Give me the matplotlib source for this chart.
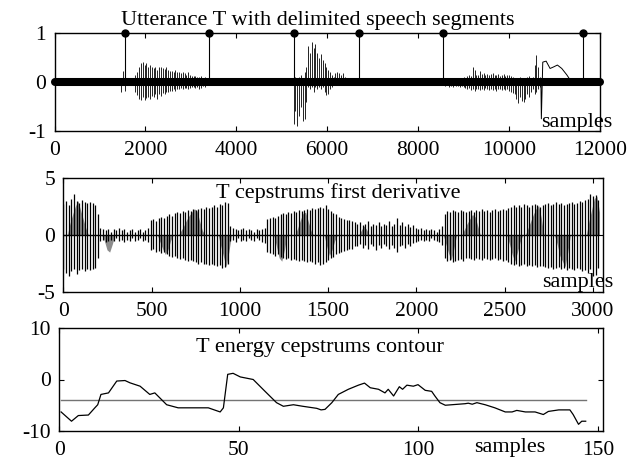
import numpy as np
import matplotlib
matplotlib.use("Agg")
import matplotlib.pyplot as plt

plt.rcParams['font.family'] = ['Liberation Serif', 'DejaVu Serif']
plt.rcParams['axes.unicode_minus'] = False

# ---------------- data ----------------
# Panel 1: utterance waveform (stick envelopes) and segment delimiters
n_samples = 12000
boundaries = [1545, 3407, 5260, 6703, 8557, 11633]
boundary_vals = [1, 1, 1, 1, 1, 1]

blip_x = [1460, 1500, 1540]
blip_hi = [0.05, 0.22, 0.10]
blip_lo = [-0.20, -0.05, -0.18]

seg1_start, seg1_step = 1780, 40
seg1_hi = [0.15, 0.2, 0.3, 0.4, 0.42, 0.35, 0.4, 0.3, 0.35,
           0.3, 0.28, 0.3, 0.25, 0.3, 0.3, 0.28, 0.27, 0.3, 0.25, 0.22,
           0.22, 0.2, 0.25, 0.2, 0.2, 0.18, 0.2, 0.18, 0.15, 0.2, 0.15, 0.12,
           0.12, 0.12, 0.1, 0.1, 0.12, 0.08, 0.1, 0.05]
seg1_lo = [-0.2, -0.27, -0.35, -0.37, -0.3, -0.37, -0.33, -0.3, -0.35,
           -0.28, -0.3, -0.25, -0.35, -0.25, -0.28, -0.22, -0.25, -0.2, -0.2, -0.18,
           -0.18, -0.15, -0.18, -0.15, -0.15, -0.12, -0.15, -0.12, -0.12, -0.15, -0.12, -0.1,
           -0.1, -0.12, -0.1, -0.15, -0.12, -0.08, -0.1, -0.05]

seg2_start, seg2_step = 5260, 40
seg2_hi = [0.05, 0.1, 0.05, 0.1, 0.15, 0.05, 0.2, 0.3, 0.75, 0.6, 0.82, 0.7, 0.78,
           0.6, 0.5, 0.58, 0.45, 0.4, 0.3, 0.25, 0.2, 0.15, 0.1, 0.18, 0.2, 0.18,
           0.15, 0.18, 0.1, 0.05]
seg2_lo = [-0.85, -0.6, -0.9, -0.7, -0.5, -0.8, -0.75, -0.4, -0.1, -0.15, -0.1, -0.2,
           -0.1, -0.15, -0.1, -0.15, -0.1, -0.2, -0.27, -0.25, -0.15, -0.1, -0.05,
           -0.05, -0.03, -0.03, -0.02, 0.0, 0.0, 0.0]

seg3_start, seg3_step = 8560, 40
seg3_hi = [0.05, 0.07, 0.04, 0.08, 0.06, 0.05, 0.08, 0.06, 0.07, 0.05, 0.08, 0.1, 0.08,
           0.12, 0.15, 0.13, 0.3, 0.25, 0.15, 0.14, 0.22, 0.16, 0.18, 0.15, 0.17, 0.14,
           0.16, 0.18, 0.15, 0.14, 0.16, 0.13, 0.15, 0.17, 0.12, 0.14, 0.15, 0.12, 0.1,
           0.08, 0.06, 0.05, 0.1, 0.06, 0.08, 0.05, 0.1, 0.12, 0.08, 0.1,
           0.35, 0.55, 0.3, 0.1]
seg3_lo = [-0.06, -0.08, -0.05, -0.09, -0.07, -0.1, -0.06, -0.08, -0.07, -0.09, -0.08, -0.1, -0.12,
           -0.14, -0.12, -0.16, -0.15, -0.18, -0.13, -0.15, -0.17, -0.14, -0.16, -0.12, -0.15,
           -0.17, -0.13, -0.16, -0.14, -0.18, -0.15, -0.13, -0.16, -0.14, -0.17, -0.15, -0.18,
           -0.2, -0.22,
           -0.25, -0.35, -0.42, -0.3, -0.38, -0.4, -0.35, -0.25, -0.3, -0.2, -0.15,
           -0.25, -0.2, -0.15, -0.1]

tail_x = [10700, 10710, 10741, 10815, 10902, 10975, 11063, 11159, 11269, 11341]
tail_y = [0.0, -0.75, 0.41, 0.43, 0.28, 0.31, 0.35, 0.28, 0.15, 0.05]

# Panel 2: cepstrum first derivative (stick envelopes every 15 samples)
stick_step = 15
deriv_hi = [2.7, 3.0, 2.6, 3.2, 3.6, 3.0, 2.8, 3.1, 2.9, 2.8, 2.9, 2.8, 2.6, 1.8,
            0.6, 0.5, 0.4, 0.5, 0.3, 0.5, 0.4, 0.6, 0.4, 0.5, 0.3, 0.4, 0.5, 0.3, 0.4, 0.5, 0.3, 0.4, 0.6,
            1.3, 1.4, 1.2, 1.5, 1.6, 1.5, 1.7, 1.8, 1.7, 1.9, 2.0, 1.9, 2.1, 2.0, 2.2, 2.1, 2.3, 2.2,
            2.3, 2.4, 2.3, 2.5, 2.4, 2.5, 2.6, 2.5, 2.7, 2.6, 2.9, 2.8,
            0.8, 0.6, 0.5, 0.4, 0.5, 0.6, 0.4, 0.5, 0.4, 0.3, 0.5, 0.4, 0.5, 0.6,
            1.4, 1.5, 1.6, 1.5, 1.7, 1.8, 1.9, 1.8, 2.0, 1.9, 2.1, 2.0, 2.2, 2.1, 2.2, 2.3, 2.2, 2.4, 2.3, 2.4,
            2.5, 2.4, 2.6, 2.3,
            2.1, 1.9, 1.8, 1.6, 1.5, 1.4, 1.3, 1.3, 1.2, 1.1,
            1.0, 1.1, 0.9, 1.0, 1.2, 0.8, 1.0, 0.9, 1.1, 0.8, 1.0, 0.9, 1.2, 0.8, 1.0, 1.5, 0.9,
            1.1, 0.8, 1.0, 0.7, 0.9, 0.6, 0.5, 0.6, 0.4, 0.5, 0.4, 0.5, 0.4, 0.3, 0.5, 0.8,
            1.8, 2.1, 2.0, 2.2, 2.1, 2.0, 2.2, 2.1, 2.0,
            2.1, 2.2, 2.0, 2.2, 2.1, 2.3, 2.1, 2.2, 2.0, 2.2, 2.3, 2.1, 2.2, 2.3, 2.2,
            2.4, 2.5, 2.6, 2.5, 2.6, 2.5, 2.7, 2.6, 2.5, 2.6, 2.7, 2.6, 2.5,
            2.6, 2.7, 2.8, 2.6, 2.7, 2.9, 2.7, 2.8, 2.6, 2.7, 2.8, 2.9, 2.7, 2.8, 3.0, 2.9, 3.1,
            3.2, 3.6, 3.4, 3.5, 3.1]
deriv_lo = [-3.0, -3.3, -3.6, -3.2, -3.0, -3.4, -3.1, -3.0, -3.2, -3.0, -3.1, -3.0, -2.9, -2.0,
            -0.5, -0.4, -0.6, -0.5, -0.4, -0.5, -0.3, -0.5, -0.4, -0.6, -0.4, -0.5, -0.3, -0.5, -0.4, -0.3, -0.5, -0.4, -0.6,
            -1.3, -1.2, -1.5, -1.4, -1.6, -1.5, -1.7, -1.8, -1.9, -1.8, -2.0, -2.1, -2.0, -2.2, -2.3, -2.2,
            -2.3, -2.4, -2.5, -2.4, -2.5, -2.5, -2.6, -2.5, -2.6, -2.7, -2.6, -2.9, -2.8, -2.5,
            -0.5, -0.4, -0.6, -0.3, -0.5, -0.4, -0.5, -0.3, -0.4, -0.5, -0.3, -0.4, -0.6, -0.7,
            -1.5, -1.6, -1.7, -1.8, -1.7, -1.9, -2.0, -2.1, -2.0, -2.2, -2.1, -2.2, -2.3, -2.2, -2.3, -2.4, -2.3, -2.4, -2.5, -2.4,
            -2.6, -2.5, -2.4, -2.2,
            -2.0, -1.9, -1.7, -1.6, -1.5, -1.4, -1.3, -1.2, -1.2, -1.0,
            -1.0, -0.8, -1.1, -0.9, -1.2, -0.8, -1.0, -1.3, -0.9, -1.1, -0.8, -1.0, -1.2, -0.9, -1.1, -1.5, -1.0,
            -0.9, -1.1, -0.8, -1.0, -0.7, -0.6, -0.5, -0.4, -0.5, -0.4, -0.5, -0.3, -0.4, -0.5, -0.6, -0.9,
            -2.0, -2.3, -2.2, -2.4, -2.3, -2.2, -2.1, -2.3, -2.0,
            -2.0, -2.1, -2.2, -2.0, -2.1, -2.2, -2.0, -2.1, -2.2, -2.1, -2.0, -2.2, -2.1, -2.3, -2.2,
            -2.4, -2.5, -2.6, -2.5, -2.7, -2.6, -2.5, -2.7, -2.6, -2.7, -2.6, -2.8, -2.7,
            -2.7, -2.8, -2.9, -2.8, -3.0, -2.9, -2.8, -3.0, -2.9, -3.1, -2.9, -3.0, -3.1, -2.9, -3.0, -3.2, -3.1,
            -3.3, -3.0, -3.6, -3.5, -2.9]
# slowly varying coefficient "triangles": stick index -> value
tri_k = [2, 3, 4, 5, 6, 7, 8,
         15, 16, 17, 18,
         36, 37, 38, 39, 40,
         44, 45, 46, 47, 48, 49, 50, 51, 52,
         59, 60, 61, 62,
         80, 81, 82, 83,
         88, 89, 90, 91, 92, 93,
         99, 100, 101, 102,
         112, 113, 114,
         144, 145, 146, 147,
         151, 152, 153, 154, 155, 156,
         168, 169, 170, 171, 172,
         175, 176, 177, 178, 179, 180,
         186, 187, 188, 189, 190,
         198, 199, 200, 201, 202]
tri_v = [1.0, 1.8, 2.5, 3.0, 2.2, 1.4, 0.6,
         -0.5, -1.3, -1.5, -0.8,
         -0.6, -1.2, -1.7, -1.3, -0.5,
         0.4, 0.8, 1.3, 1.7, 2.0, 2.3, 2.1, 1.2, 0.4,
         -1.0, -1.9, -2.8, -1.5,
         -1.0, -2.0, -2.3, -1.3,
         0.6, 1.3, 1.9, 2.0, 1.2, 0.4,
         -1.0, -1.8, -1.3, -0.5,
         0.4, 0.8, 0.5,
         -0.8, -1.6, -2.2, -1.2,
         0.5, 1.0, 1.4, 1.8, 1.6, 0.8,
         -0.8, -1.7, -2.3, -1.5, -0.6,
         0.6, 1.2, 1.8, 2.3, 2.6, 1.5,
         -0.8, -1.8, -2.3, -2.8, -1.5,
         1.2, 2.2, 3.2, 3.4, 2.0]

# Panel 3: energy cepstrum contour and threshold
contour_x = [0.5, 3.4, 5.3, 8.1, 9.9, 10.7, 11.6, 13.7, 16.0, 18.3, 19.7, 22.5, 25.2, 26.6,
             29.9, 33.1, 41.5, 44.8, 45.7, 46.9, 48.4, 50.4, 54.0, 57.3, 60.5, 62.4, 65.2,
             67.8, 71.7, 72.9, 74.0, 75.9, 77.7, 80.5, 83.3, 85.0, 86.6, 88.9, 90.7, 91.6,
             93.1, 94.7, 95.6, 96.8, 98.6, 99.9, 101.9, 103.7, 104.6, 106.0, 107.5, 109.3,
             113.0, 113.9, 115.0, 116.3, 118.6, 121.3, 124.2, 126.1, 127.4, 129.8, 132.5,
             134.8, 136.2, 139.1, 142.2, 143.1, 144.6, 145.5, 146.6]
contour_y = [-6.3, -8.1, -7.0, -6.9, -5.5, -4.9, -2.9, -2.6, -0.3, -0.2, -0.65, -1.3, -2.9, -2.6,
             -4.9, -5.5, -5.5, -6.3, -5.5, 1.0, 1.2, 0.5, 0.0, -2.3, -4.5, -5.2, -4.9,
             -5.2, -5.6, -5.9, -5.8, -4.5, -2.9, -1.9, -1.1, -0.7, -1.6, -1.9, -2.6, -1.9,
             -3.2, -1.4, -1.9, -1.1, -1.3, -1.0, -2.1, -2.3, -3.2, -4.5, -5.0, -4.9,
             -4.7, -4.6, -4.8, -4.5, -4.9, -5.5, -6.3, -6.3, -6.0, -6.3, -6.3,
             -6.8, -6.2, -5.9, -5.9, -6.8, -8.7, -8.1, -8.1]
threshold = -4.0

# ---------------- figure ----------------
W, H = 639, 462
fig = plt.figure(figsize=(W / 100, H / 100), dpi=100)

def rect(l, t, r, b):
    return [l / W, 1 - b / H, (r - l) / W, (b - t) / H]

ax1 = fig.add_axes(rect(54.5, 33.3, 600, 131))
ax2 = fig.add_axes(rect(63.4, 178, 602.7, 292))
ax3 = fig.add_axes(rect(59.3, 328, 603.3, 431))

TICK_FS = 15.5
TXT_FS = 16

for ax in (ax1, ax2, ax3):
    ax.tick_params(direction='in', top=True, right=True, length=3.5, width=0.8,
                   labelsize=TICK_FS)
    ax.tick_params(axis='x', pad=7.5)
    ax.tick_params(axis='y', pad=6)
    for s in ax.spines.values():
        s.set_linewidth(1.0)

# --- panel 1 ---
lw_w = 0.6
ax1.vlines(blip_x, blip_lo, blip_hi, color='k', lw=lw_w)
x1 = seg1_start + seg1_step * np.arange(len(seg1_hi))
ax1.vlines(x1, seg1_lo, seg1_hi, color='k', lw=lw_w)
x2 = seg2_start + seg2_step * np.arange(len(seg2_hi))
ax1.vlines(x2, seg2_lo, seg2_hi, color='k', lw=lw_w)
x3 = seg3_start + seg3_step * np.arange(len(seg3_hi))
ax1.vlines(x3, seg3_lo, seg3_hi, color='k', lw=lw_w)
ax1.plot(tail_x, tail_y, color='k', lw=0.7)
ax1.plot([0, n_samples], [0, 0], color='k', lw=5.8, solid_capstyle='round',
         clip_on=False, zorder=3)
ax1.vlines(boundaries, 0, boundary_vals, color='k', lw=0.8, zorder=3)
ax1.plot(boundaries, boundary_vals, 'o', color='k', ms=5, clip_on=False, zorder=4)
ax1.set_xlim(0, n_samples)
ax1.set_ylim(-1, 1)
ax1.set_xticks(range(0, 12001, 2000))
ax1.set_yticks([-1, 0, 1])

# --- panel 2 ---
sx = stick_step * np.arange(len(deriv_hi))
tri = np.zeros(len(deriv_hi))
tri[tri_k] = tri_v
ax2.fill_between(sx + 7, 0, tri, color='0.55', lw=0)
ax2.vlines(sx, deriv_lo, deriv_hi, color='k', lw=0.9)
ax2.plot(sx, np.zeros(len(sx)), color='k', lw=1.0)
ax2.set_xlim(0, 3055)
ax2.set_ylim(-5, 5)
ax2.set_xticks(range(0, 3001, 500))
ax2.set_yticks([-5, 0, 5])

# --- panel 3 ---
ax3.plot([contour_x[0], contour_x[-1]], [threshold, threshold], color='0.45', lw=1.0)
ax3.plot(contour_x, contour_y, color='k', lw=0.9)
ax3.set_xlim(0, 151.5)
ax3.set_ylim(-10, 10)
ax3.set_xticks([0, 50, 100, 150])
ax3.set_yticks([-10, 0, 10])

# --- texts ---
fig.text(318 / W, 1 - 25 / H, 'Utterance T with delimited speech segments',
         ha='center', va='baseline', fontsize=TXT_FS)
fig.text(338 / W, 1 - 198.3 / H, 'T cepstrums first derivative',
         ha='center', va='baseline', fontsize=TXT_FS)
fig.text(319.5 / W, 1 - 351.7 / H, 'T energy cepstrums contour',
         ha='center', va='baseline', fontsize=TXT_FS)
fig.text(540.7 / W, 1 - 126.5 / H, 'samples', ha='left', va='baseline', fontsize=TXT_FS)
fig.text(541.7 / W, 1 - 286.7 / H, 'samples', ha='left', va='baseline', fontsize=TXT_FS)
fig.text(474 / W, 1 - 451.7 / H, 'samples', ha='left', va='baseline', fontsize=TXT_FS)

fig.savefig('out.png', dpi=100)
